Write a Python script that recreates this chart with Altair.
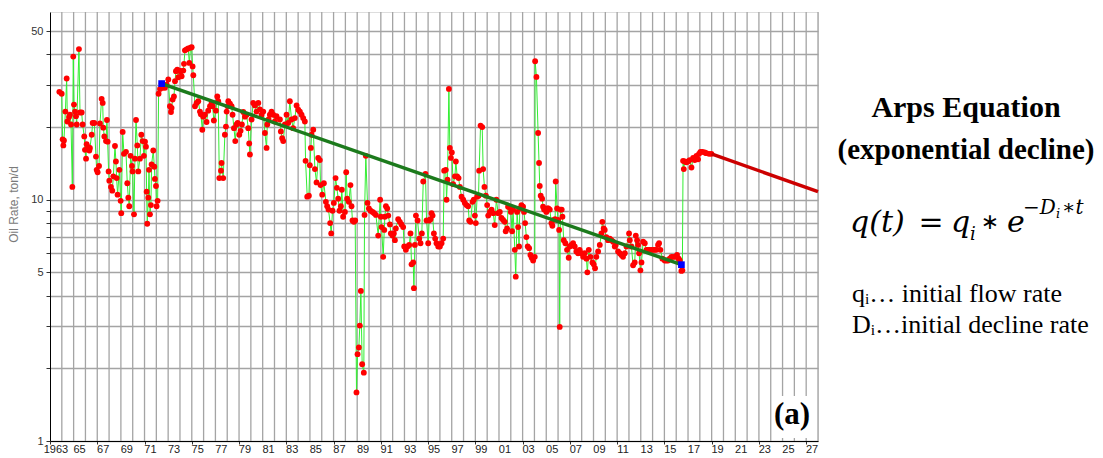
import altair as alt
import pandas as pd

# ---------------- data ----------------
years = [
    1963.79, 1963.99, 1964.07, 1964.13, 1964.18, 1964.30, 1964.41, 1964.47, 1964.61, 1964.69,
    1964.78, 1964.89, 1964.97, 1965.03, 1965.12, 1965.20, 1965.26, 1965.45, 1965.54, 1965.68,
    1965.76, 1965.90, 1965.96, 1966.05, 1966.10, 1966.24, 1966.33, 1966.38, 1966.53, 1966.61,
    1966.75, 1966.89, 1966.95, 1967.03, 1967.15, 1967.23, 1967.37, 1967.46, 1967.51, 1967.60,
    1967.74, 1967.82, 1967.88, 1967.96, 1968.02, 1968.16, 1968.27, 1968.36, 1968.50, 1968.58,
    1968.64, 1968.72, 1968.87, 1968.98, 1969.03, 1969.15, 1969.26, 1969.43, 1969.54, 1969.63,
    1969.71, 1969.82, 1969.94, 1969.99, 1970.11, 1970.19, 1970.28, 1970.39, 1970.47, 1970.61,
    1970.73, 1970.84, 1970.95, 1971.04, 1971.12, 1971.18, 1971.23, 1971.32, 1971.38, 1971.46,
    1971.54, 1971.60, 1971.74, 1971.83, 1971.88, 1971.97, 1972.02, 1972.11, 1972.19, 1972.31,
    1972.45, 1972.53, 1972.73, 1972.87, 1973.01, 1973.15, 1973.24, 1973.29, 1973.38, 1973.49,
    1973.58, 1973.66, 1973.77, 1973.86, 1973.94, 1974.05, 1974.14, 1974.28, 1974.34, 1974.42,
    1974.56, 1974.70, 1974.79, 1974.90, 1974.99, 1975.07, 1975.13, 1975.27, 1975.41, 1975.55,
    1975.69, 1975.77, 1975.89, 1975.97, 1976.11, 1976.25, 1976.39, 1976.54, 1976.68, 1976.76,
    1976.87, 1977.04, 1977.16, 1977.24, 1977.33, 1977.47, 1977.52, 1977.66, 1977.80, 1977.89,
    1977.95, 1978.03, 1978.09, 1978.23, 1978.37, 1978.45, 1978.57, 1978.68, 1978.79, 1978.88,
    1979.02, 1979.13, 1979.24, 1979.36, 1979.50, 1979.64, 1979.78, 1979.86, 1979.92, 1980.06,
    1980.20, 1980.34, 1980.48, 1980.63, 1980.77, 1980.91, 1981.05, 1981.19, 1981.33, 1981.39,
    1981.50, 1981.61, 1981.75, 1981.89, 1982.03, 1982.17, 1982.46, 1982.54, 1982.65, 1982.74,
    1982.88, 1983.02, 1983.16, 1983.30, 1983.44, 1983.58, 1983.72, 1983.87, 1984.01, 1984.15,
    1984.29, 1984.43, 1984.57, 1984.63, 1984.77, 1984.91, 1984.99, 1985.08, 1985.14, 1985.28,
    1985.42, 1985.56, 1985.70, 1985.84, 1985.90, 1986.04, 1986.18, 1986.35, 1986.46, 1986.57,
    1986.71, 1986.80, 1986.91, 1987.02, 1987.17, 1987.28, 1987.39, 1987.50, 1987.62, 1987.70,
    1987.81, 1987.96, 1988.07, 1988.15, 1988.29, 1988.43, 1988.52, 1988.60, 1988.72, 1988.83,
    1988.94, 1989.03, 1989.14, 1989.22, 1989.31, 1989.42, 1989.56, 1989.62, 1989.73, 1989.87,
    1989.99, 1990.13, 1990.30, 1990.44, 1990.58, 1990.78, 1990.94, 1991.00, 1991.06, 1991.20,
    1991.29, 1991.34, 1991.43, 1991.54, 1991.63, 1991.77, 1991.85, 1991.99, 1992.10, 1992.19,
    1992.27, 1992.47, 1992.61, 1992.75, 1992.89, 1992.98, 1993.12, 1993.26, 1993.40, 1993.51,
    1993.60, 1993.74, 1993.80, 1993.88, 1993.97, 1994.11, 1994.25, 1994.36, 1994.47, 1994.59,
    1994.78, 1994.87, 1995.01, 1995.09, 1995.21, 1995.29, 1995.38, 1995.49, 1995.60, 1995.71,
    1995.86, 1996.00, 1996.14, 1996.28, 1996.36, 1996.50, 1996.56, 1996.64, 1996.76, 1996.84,
    1996.93, 1997.01, 1997.12, 1997.27, 1997.35, 1997.46, 1997.58, 1997.69, 1997.83, 1997.97,
    1998.11, 1998.25, 1998.39, 1998.48, 1998.59, 1998.76, 1998.87, 1998.96, 1999.04, 1999.15,
    1999.27, 1999.32, 1999.44, 1999.58, 1999.66, 1999.77, 1999.89, 2000.00, 2000.09, 2000.23,
    2000.37, 2000.51, 2000.64, 2000.78, 2000.93, 2001.07, 2001.21, 2001.35, 2001.49, 2001.57,
    2001.69, 2001.77, 2001.91, 2002.00, 2002.11, 2002.19, 2002.34, 2002.42, 2002.53, 2002.62,
    2002.70, 2002.76, 2002.90, 2003.04, 2003.12, 2003.21, 2003.32, 2003.43, 2003.55, 2003.66,
    2003.77, 2003.89, 2004.03, 2004.06, 2004.17, 2004.31, 2004.39, 2004.45, 2004.53, 2004.65,
    2004.73, 2004.82, 2004.90, 2005.01, 2005.10, 2005.18, 2005.30, 2005.44, 2005.52, 2005.63,
    2005.75, 2005.80, 2005.92, 2006.00, 2006.09, 2006.14, 2006.20, 2006.31, 2006.37, 2006.48,
    2006.62, 2006.76, 2006.90, 2006.99, 2007.13, 2007.27, 2007.41, 2007.55, 2007.69, 2007.83,
    2007.97, 2008.12, 2008.26, 2008.40, 2008.48, 2008.60, 2008.74, 2008.91, 2009.02, 2009.13,
    2009.24, 2009.39, 2009.53, 2009.67, 2009.75, 2009.86, 2009.95, 2010.09, 2010.23, 2010.38,
    2010.52, 2010.66, 2010.80, 2010.88, 2011.08, 2011.22, 2011.36, 2011.50, 2011.65, 2011.79,
    2012.01, 2012.07, 2012.21, 2012.35, 2012.49, 2012.58, 2012.69, 2012.77, 2012.86, 2012.97,
    2013.06, 2013.20, 2013.34, 2013.48, 2013.62, 2013.76, 2013.90, 2014.04, 2014.18, 2014.32,
    2014.46, 2014.55, 2014.66, 2014.83, 2015.03, 2015.17, 2015.31, 2015.45, 2015.59, 2015.73,
    2015.88, 2016.07, 2016.21, 2016.30, 2016.44, 2016.52, 2016.58, 2016.64, 2016.72, 2016.86,
    2017.00, 2017.14, 2017.29, 2017.43, 2017.57, 2017.71, 2017.85, 2017.93, 2018.05, 2018.22,
    2018.41, 2018.55, 2018.78, 2018.98,
]
rates = [
    28.0, 27.5, 17.8, 16.8, 17.6, 23.2, 31.8, 21.1, 22.0, 22.5,
    20.5, 11.3, 39.2, 24.8, 23.2, 22.2, 20.5, 42.1, 23.0, 23.0,
    20.5, 18.3, 16.1, 14.8, 17.0, 16.5, 16.0, 16.4, 18.6, 20.8,
    20.8, 15.1, 13.3, 13.0, 13.8, 20.7, 26.2, 25.2, 19.9, 18.3,
    17.5, 21.4, 17.4, 13.1, 12.0, 11.3, 10.9, 12.5, 16.7, 14.4,
    12.3, 10.5, 13.3, 9.9, 8.8, 19.1, 15.5, 15.8, 11.7, 10.2,
    9.4, 15.2, 13.8, 13.1, 8.7, 14.8, 21.4, 16.8, 13.1, 14.8,
    18.6, 17.5, 15.2, 17.4, 16.6, 10.8, 7.95, 10.2, 13.3, 8.7,
    9.5, 14.0, 16.0, 13.7, 12.2, 11.4, 9.4, 9.9, 27.5, 28.8,
    30.3, 29.1, 29.1, 30.0, 31.5, 24.4, 23.1, 24.0, 26.0, 26.8,
    31.0, 34.1, 34.6, 32.2, 34.3, 34.1, 32.5, 34.3, 36.6, 41.6,
    42.0, 42.4, 36.9, 42.7, 42.9, 35.7, 32.8, 24.4, 25.2, 25.6,
    23.2, 22.6, 19.5, 22.1, 22.5, 21.0, 23.4, 24.4, 25.2, 24.4,
    21.3, 23.4, 26.8, 25.6, 12.3, 13.2, 14.2, 12.3, 18.6, 20.1,
    23.2, 24.4, 25.6, 25.0, 24.4, 22.5, 19.8, 17.5, 20.5, 20.8,
    18.6, 19.3, 20.5, 23.1, 22.1, 22.5, 19.8, 17.1, 15.4, 21.5,
    25.2, 24.6, 23.2, 25.2, 23.7, 22.5, 23.2, 18.9, 16.4, 20.5,
    21.5, 22.5, 23.2, 22.5, 21.1, 22.2, 21.5, 19.2, 18.0, 17.5,
    20.5, 22.5, 20.8, 25.6, 21.5, 19.8, 21.8, 24.6, 23.6, 23.2,
    22.5, 21.8, 21.1, 14.5, 10.3, 10.4, 13.9, 16.4, 18.6, 19.5,
    13.4, 11.8, 14.9, 14.6, 11.5, 10.5, 11.7, 9.8, 9.4, 9.1,
    8.0, 7.25, 9.0, 9.7, 12.3, 11.2, 10.1, 9.0, 9.4, 11.0,
    8.5, 8.9, 13.0, 10.1, 9.8, 11.5, 9.4, 8.2, 8.1, 8.2,
    1.59, 2.29, 2.44, 3.01, 4.19, 2.08, 1.92, 8.65, 15.2, 9.7,
    9.2, 9.0, 8.9, 8.8, 8.65, 7.1, 10.0, 8.5, 7.7, 5.8,
    7.5, 8.5, 9.4, 9.2, 8.6, 7.9, 7.25, 7.1, 7.25, 6.8,
    7.6, 8.3, 8.1, 7.9, 7.7, 6.4, 6.2, 6.4, 6.5, 7.25,
    5.4, 5.5, 4.3, 6.5, 8.6, 8.2, 6.9, 6.6, 7.25, 11.9,
    12.8, 8.2, 6.6, 8.2, 8.3, 8.8, 8.6, 7.25, 6.9, 6.6,
    6.4, 6.4, 6.6, 6.9, 13.2, 13.3, 10.0, 12.1, 28.8, 16.4,
    14.9, 15.7, 11.6, 12.5, 14.4, 12.5, 12.3, 11.3, 10.3, 10.0,
    9.7, 9.5, 9.4, 8.2, 8.1, 9.8, 10.0, 8.6, 8.0, 10.3,
    10.4, 13.2, 20.3, 20.0, 13.4, 11.3, 10.4, 9.5, 8.6, 8.9,
    9.1, 8.8, 7.85, 10.0, 8.8, 8.9, 8.4, 8.25, 8.1, 7.4,
    7.6, 9.35, 9.3, 8.9, 7.4, 9.1, 6.2, 4.8, 8.9, 7.7,
    6.4, 9.2, 9.5, 9.35, 8.9, 8.0, 7.0, 6.4, 6.3, 5.9,
    5.75, 5.6, 5.8, 37.5, 32.3, 18.9, 14.2, 11.4, 10.4, 10.1,
    9.35, 9.1, 9.1, 8.9, 9.2, 9.2, 9.1, 8.0, 7.8, 8.25,
    8.3, 11.9, 9.2, 8.25, 7.5, 2.97, 9.1, 9.1, 8.5, 6.8,
    6.6, 6.2, 5.75, 6.4, 6.5, 6.6, 6.4, 6.1, 6.0, 6.2,
    6.0, 5.8, 6.0, 5.7, 5.0, 6.2, 5.8, 5.5, 5.4, 5.2,
    5.8, 6.1, 6.5, 7.25, 8.1, 7.6, 7.5, 7.0, 6.8, 6.9,
    6.8, 6.7, 6.4, 6.5, 6.1, 6.0, 5.9, 5.8, 6.0, 6.4,
    7.25, 6.8, 6.4, 5.35, 5.5, 7.1, 6.8, 6.5, 6.0, 5.1,
    5.5, 6.7, 6.6, 6.2, 6.2, 6.2, 6.2, 6.2, 6.2, 6.2,
    6.5, 6.6, 6.2, 5.7, 5.6, 5.6, 5.6, 5.7, 5.8, 5.8,
    5.8, 5.9, 5.7, 5.6, 5.07, 5.1, 14.5, 13.4, 14.4, 14.3,
    14.4, 14.6, 13.6, 14.9, 14.6, 15.2, 14.7, 15.5, 15.8, 15.8,
    15.7, 15.6, 15.5, 15.5,
]

fit_years = [1972.45, 2016.44]          # exponential decline fit (dark green)
fit_rates = [30.3, 5.38]
forecast_years = [2018.98, 2028.0]      # forecast (dark red)
forecast_rates = [15.5, 10.8]
anchor_years = [1972.45, 2016.44]       # blue anchor points
anchor_rates = [30.3, 5.38]

tick_years = list(range(1963, 2029))            # yearly ticks
grid_years = list(range(1964, 2029))            # yearly vertical grid lines
label_years = list(range(1963, 2028, 2))        # labelled (odd) years, centred mid-year
y_ticks = [1, 2, 3, 4, 5, 6, 7, 8, 9, 10, 20, 30, 40, 50]

# ---------------- chart ----------------
obs = pd.DataFrame({"year": years, "rate": rates})
fit = pd.DataFrame({"year": fit_years, "rate": fit_rates})
fc = pd.DataFrame({"year": forecast_years, "rate": forecast_rates})
anc = pd.DataFrame({"year": anchor_years, "rate": anchor_rates})
grid_df = pd.DataFrame({"year": grid_years})
lab_df = pd.DataFrame({"year": label_years})

GRID = "#a4a4a4"
xs = alt.Scale(domain=[1963, 2028], nice=False, zero=False)
ys = alt.Scale(type="log", domain=[1, 60], nice=False)

x_axis = alt.Axis(
    values=tick_years, title=None, grid=False, labels=False, tickSize=3,
    tickColor="#333333", domainColor="#000000",
)
y_axis = alt.Axis(
    values=y_ticks, grid=True, gridColor=GRID, gridWidth=1.3,
    labelExpr="(datum.value == 1 || datum.value == 5 || datum.value == 10 || datum.value == 50) ? datum.value + '' : ''",
    labelOverlap=False, labelFont="Liberation Sans", labelFontSize=11,
    labelColor="#333333", labelPadding=3, tickSize=4, tickColor="#333333",
    domainColor="#000000", title="Oil Rate, ton/d", titleFont="Liberation Sans",
    titleFontSize=12, titleFontWeight="normal", titleColor="#7a7a7a",
    titleX=-30, titleY=192, titleAngle=270,
)

vgrid = alt.Chart(grid_df).mark_rule(color=GRID, strokeWidth=1.3).encode(
    x=alt.X("year:Q", scale=xs, axis=x_axis))
conn = alt.Chart(obs).mark_line(color="#33ee33", strokeWidth=1).encode(
    x=alt.X("year:Q", scale=xs, axis=x_axis),
    y=alt.Y("rate:Q", scale=ys, axis=y_axis), order="year:Q")
pts = alt.Chart(obs).mark_circle(color="#ff0000", size=34, opacity=1).encode(
    x="year:Q", y="rate:Q")
fitl = alt.Chart(fit).mark_line(color="#1c7a1c", strokeWidth=3.5).encode(
    x="year:Q", y="rate:Q")
fcl = alt.Chart(fc).mark_line(color="#cc0000", strokeWidth=3.5).encode(
    x="year:Q", y="rate:Q")
ancp = alt.Chart(anc).mark_square(color="#0000ff", size=45, opacity=1).encode(
    x="year:Q", y="rate:Q")

# x tick labels (odd years, centred on the middle of the year)
xlabels = alt.Chart(lab_df).transform_calculate(
    mid="datum.year + 0.5",
    txt="datum.year == 1963 ? '1963' : substring(toString(100 + datum.year % 100), 1)",
).mark_text(font="Liberation Sans", fontSize=11, color="#222222",
            baseline="middle", align="center").encode(
    x="mid:Q", y=alt.value(438), text="txt:N")

one = pd.DataFrame({"k": [0]})

def label(txt, x, y, size, weight="normal", style="normal", align="center",
          font="Liberation Serif", baseline="middle", color="#000000"):
    return alt.Chart(one).mark_text(
        text=txt, font=font, fontSize=size, fontWeight=weight, fontStyle=style,
        align=align, baseline=baseline, color=color,
    ).encode(x=alt.value(x), y=alt.value(y))

abox = alt.Chart(one).mark_rect(color="#ffffff").encode(
    x=alt.value(722), x2=alt.value(763), y=alt.value(384), y2=alt.value(426))

MATH = "DejaVu Serif"
texts = [
    label("(a)", 742, 403, 31, weight="bold"),
    label("Arps Equation", 916, 96, 30, weight="bold"),
    label("(exponential decline)", 916, 138, 29, weight="bold"),
    # q(t) = q_i * e^(-D_i*t)
    label("q(t)", 800, 220, 30, style="italic", align="left", font=MATH, baseline="alphabetic"),
    label("=", 881, 220, 30, align="center", font=MATH, baseline="alphabetic"),
    label("q", 901, 220, 30, style="italic", align="left", font=MATH, baseline="alphabetic"),
    label("i", 920, 228, 18, style="italic", align="left", font=MATH, baseline="alphabetic"),
    label("\u2217", 940, 210, 22, align="center", font="DejaVu Sans", baseline="middle"),
    label("e", 957, 220, 30, style="italic", align="left", font=MATH, baseline="alphabetic"),
    label("\u2212D", 973, 202, 20, style="italic", align="left", font=MATH, baseline="alphabetic"),
    label("i", 1006, 206, 13, style="italic", align="left", font=MATH, baseline="alphabetic"),
    label("\u2217t", 1012, 202, 20, style="italic", align="left", font=MATH, baseline="alphabetic"),
    label("q\u1d62\u2026 initial flow rate", 802, 290, 26, align="left", baseline="alphabetic"),
    label("D\u1d62\u2026initial decline rate", 802, 321, 26, align="left", baseline="alphabetic"),
]

chart = alt.layer(vgrid, conn, pts, fitl, fcl, ancp, abox, xlabels, *texts).properties(
    width=768, height=429,
    autosize=alt.AutoSizeParams(type="none"),
    padding={"left": 42, "top": 4, "right": 277, "bottom": 18},
).configure_view(strokeWidth=0).configure(background="#ffffff")

chart.save("out.html", embed_options={"renderer": "svg", "actions": False})
